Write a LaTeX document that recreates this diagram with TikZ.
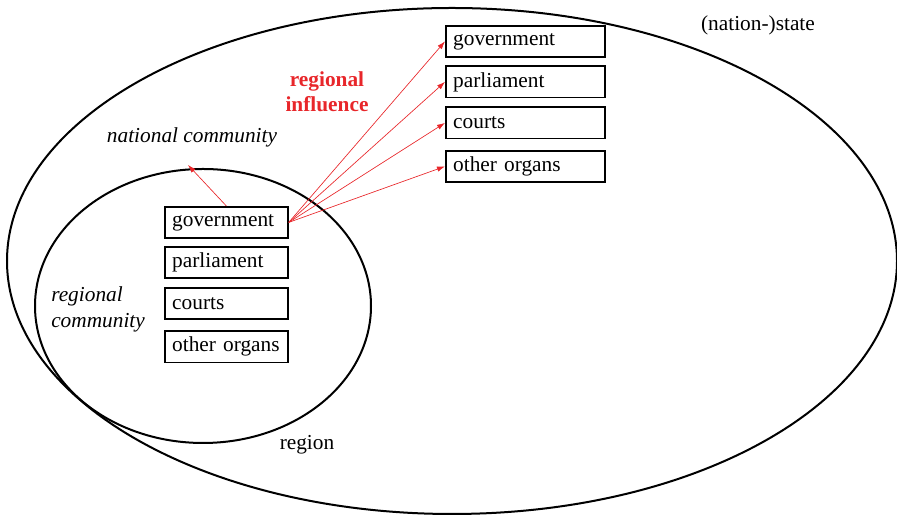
\documentclass[tikz,border=0pt]{standalone}
\usepackage{fontspec}
\setmainfont{Liberation Serif}
\usetikzlibrary{arrows.meta}
\definecolor{infl}{RGB}{232,38,42}
\begin{document}
\begin{tikzpicture}[x=0.75pt,y=0.75pt,
  organ/.style={draw=black,line width=1.3pt,rectangle,anchor=north west,
    inner xsep=5.5pt,inner ysep=0pt,align=left,minimum height=23.3pt,
    font=\fontsize{16}{18}\selectfont},
  inbox/.style={organ,text width=81.25pt},
  outbox/.style={organ,text width=108.25pt},
  infarrow/.style={draw=infl,line width=0.5pt,-{Latex[length=6pt,width=4pt]}},
  lbl/.style={font=\fontsize{16}{19}\selectfont,inner sep=0pt},
  ring/.style={line width=1.5pt}]
\useasboundingbox (0,0) rectangle (897,516);
% outer ellipse (nation-state)
\draw[ring] (452,255) ellipse [x radius=333.75pt, y radius=189.75pt];
% inner ellipse (region)
\draw[ring] (203,210) ellipse [x radius=126pt, y radius=102.75pt];
% inner boxes
\node[inbox] (ig) at (164,310) {government};
\node[inbox] (ip) at (164,270) {parliament};
\node[inbox] (ic) at (164,229) {courts};
\node[inbox] (io) at (164,185.5) {other organs};
% outer boxes
\node[outbox] (og) at (445,491) {government};
\node[outbox] (op) at (445,450.5) {parliament};
\node[outbox] (oc) at (445,409.5) {courts};
\node[outbox] (oo) at (445,366) {other organs};
% labels
\node[lbl,font=\fontsize{16}{19}\selectfont\itshape] (nc) at (192,379) {national community};
\node[lbl,font=\fontsize{16}{19}\selectfont\itshape,align=left,anchor=west] (rc) at (51,206.5) {regional\\community};
\node[lbl] (rg) at (307,71) {region};
\node[lbl] (ns) at (758,491) {(nation-)state};
\node[lbl,font=\fontsize{16}{19}\selectfont\bfseries,text=infl,align=center] (ri) at (327,424) {regional\\influence};
% arrows
\coordinate (src) at (ig.east);
\coordinate (nct) at (188,351);
\draw[infarrow] (ig.north) -- (nct);
\draw[infarrow] (src) -- (og.west);
\draw[infarrow] (src) -- (op.west);
\draw[infarrow] (src) -- (oc.west);
\draw[infarrow] (src) -- (oo.west);
\end{tikzpicture}
\end{document}
